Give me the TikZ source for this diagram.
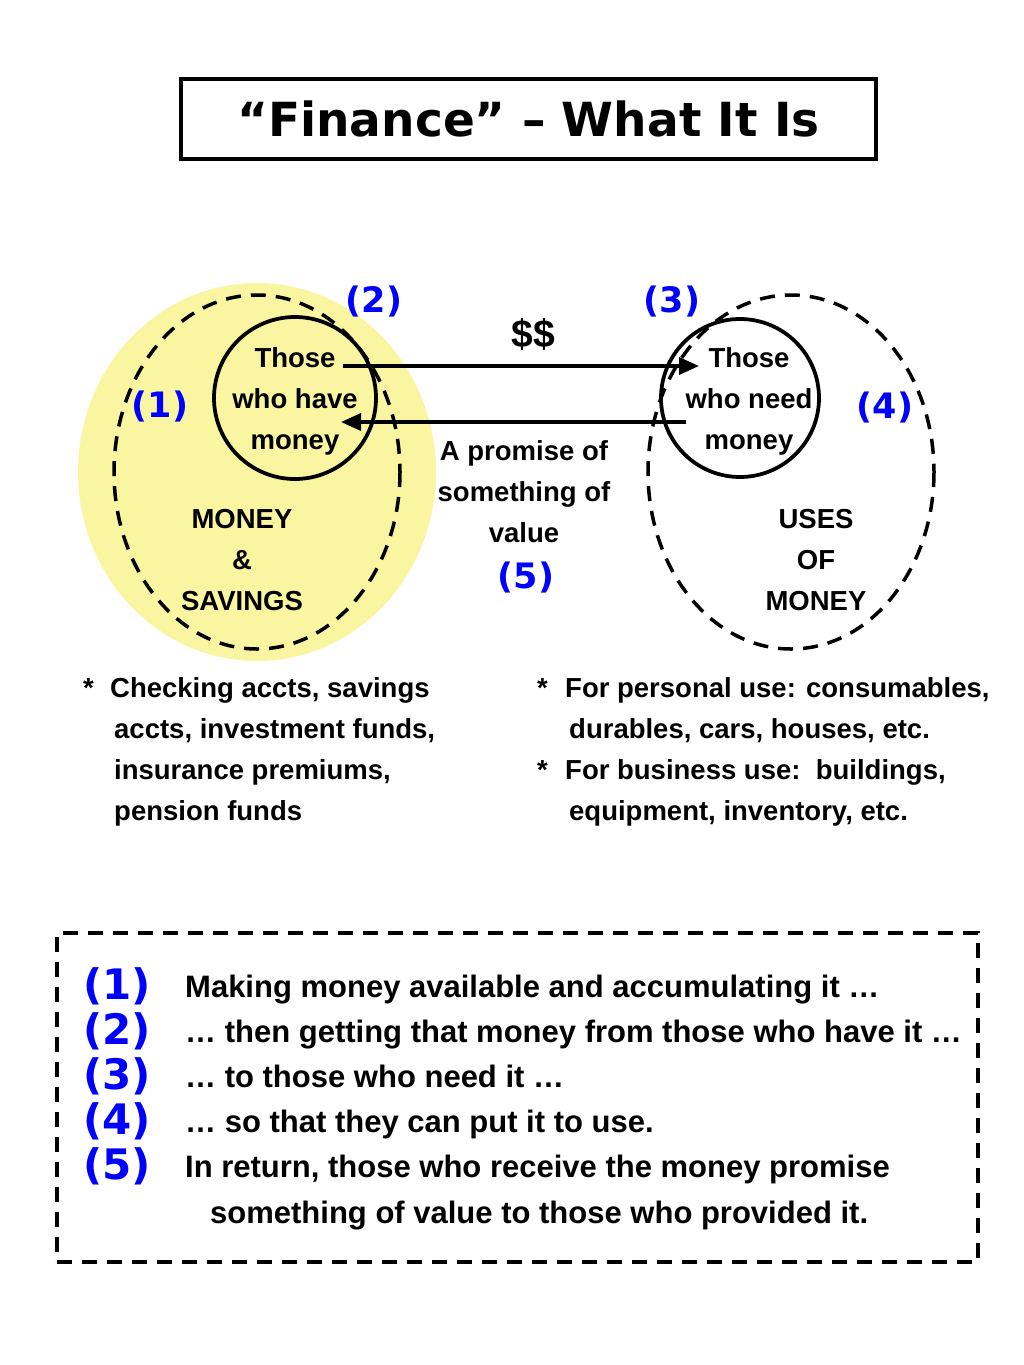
\documentclass[tikz,border=0pt]{standalone}
\usepackage{fontspec}
\usetikzlibrary{arrows.meta}
\newfontfamily\nar{Liberation Sans}
\newfontfamily\verd{DejaVu Sans}
\definecolor{ylw}{RGB}{250,245,160}
\definecolor{numblue}{RGB}{0,0,255}
\tikzset{
  txt/.style={inner sep=0pt, font=\nar\bfseries\fontsize{27.5}{41}\selectfont, align=center},
  bul/.style={inner sep=0pt, font=\nar\bfseries\fontsize{27.5}{41}\selectfont, align=left, anchor=north west},
  num/.style={inner sep=0pt, text=numblue, font=\verd\bfseries\fontsize{35}{38}\selectfont},
  bignum/.style={inner sep=0pt, text=numblue, font=\verd\bfseries\fontsize{42}{45}\selectfont, anchor=base west},
  bigtxt/.style={inner sep=0pt, font=\nar\bfseries\fontsize{31}{45}\selectfont, anchor=base west},
  dashring/.style={draw, line width=3.5pt, dash pattern=on 15pt off 10pt},
  ring/.style={draw, line width=3.75pt},
  arr/.style={line width=3.5pt, -{Triangle[length=20pt,width=17pt]}}
}
\begin{document}
\begin{tikzpicture}[x=1pt,y=-1pt]
\useasboundingbox (0,0) rectangle (1024,1365);
% title
\node[draw, line width=3.5pt, minimum width=695pt, minimum height=80pt, inner sep=0pt,
      font=\verd\bfseries\fontsize{47}{50}\selectfont] (title) at (528.5,119) {“Finance” – What It Is};
% left side
\fill[ylw] (257,472) ellipse [x radius=179, y radius=189];
\draw[dashring] (257,472) ellipse [x radius=143, y radius=177];
\node[ring, circle, minimum size=162pt, inner sep=0pt] (have) at (295,398) {};
% right side
\draw[dashring] (791,472) ellipse [x radius=143, y radius=177];
\node[ring, circle, minimum size=158pt, inner sep=0pt] (need) at (740,398) {};
% circle texts
\node[txt] (havetxt) at (295,401) {Those\\who have\\money};
\node[txt] (needtxt) at (749,401) {Those\\who need\\money};
\node[txt] (savings) at (242,560) {MONEY\\\&\\SAVINGS};
\node[txt] (uses) at (816,560) {USES\\OF\\MONEY};
\node[txt] (promise) at (524,492) {A promise of\\something of\\value};
\node[inner sep=0pt, font=\nar\bfseries\fontsize{39}{40}\selectfont] (dollars) at (533,334) {\$\$};
% arrows
\coordinate (s1) at (343,366);
\coordinate (e1) at (699,366);
\coordinate (s2) at (686,422);
\coordinate (e2) at (341,422);
\draw[arr] (s1) -- (e1);
\draw[arr] (s2) -- (e2);
% numbers
\node[num] (n1) at (160,407) {(1)};
\node[num] (n2) at (374,302) {(2)};
\node[num] (n3) at (672,302) {(3)};
\node[num] (n4) at (885,408) {(4)};
\node[num] (n5) at (526,578) {(5)};
% bullets
\node[bul] (lb) at (83,677) {\makebox[27pt][l]{*}Checking accts, savings\\\hspace*{31pt}accts, investment funds,\\\hspace*{31pt}insurance premiums,\\\hspace*{31pt}pension funds};
\node[bul] (rb) at (537,677) {\makebox[28pt][l]{*}For personal use: consumables,\\\hspace*{32pt}durables, cars, houses, etc.\\\makebox[28pt][l]{*}For business use:\ \ buildings,\\\hspace*{32pt}equipment, inventory, etc.};
% bottom box
\node[dashring, minimum width=921pt, minimum height=329pt, inner sep=0pt] (box) at (517.5,1097.5) {};
\node[bignum] (b1) at (83,999) {(1)};
\node[bignum] (b2) at (83,1044) {(2)};
\node[bignum] (b3) at (83,1089) {(3)};
\node[bignum] (b4) at (83,1134) {(4)};
\node[bignum] (b5) at (83,1179) {(5)};
\node[bigtxt] (t1) at (185,997) {Making money available and accumulating it …};
\node[bigtxt] (t2) at (185,1042) {… then getting that money from those who have it …};
\node[bigtxt] (t3) at (185,1087) {… to those who need it …};
\node[bigtxt] (t4) at (185,1132) {… so that they can put it to use.};
\node[bigtxt] (t5) at (185,1177) {In return, those who receive the money promise};
\node[bigtxt] (t6) at (210,1223) {something of value to those who provided it.};
\end{tikzpicture}
\end{document}
